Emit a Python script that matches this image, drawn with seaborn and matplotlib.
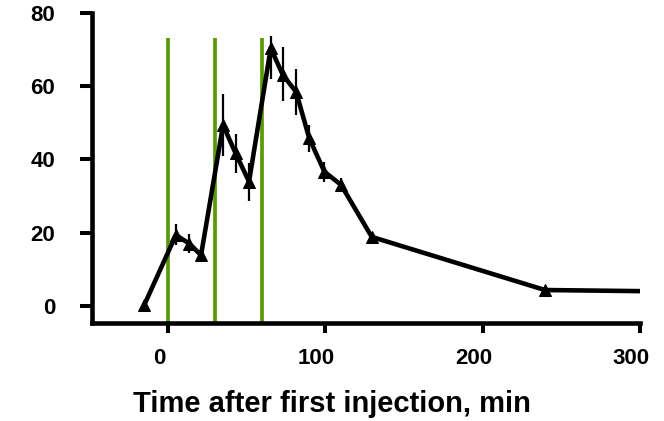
import matplotlib
matplotlib.use("Agg")
import matplotlib.pyplot as plt
import matplotlib.transforms as mtransforms
import seaborn as sns
import pandas as pd

# ---- data ----
time_min = [-15, 5, 13.5, 21, 35, 43, 51.5, 65.3, 73, 81.4, 89.8, 99.4, 110, 129.5, 239.6, 300]
value = [0.3, 19.3, 17.0, 13.8, 49.3, 41.6, 33.9, 70.3, 63.0, 58.4, 45.7, 36.6, 33.0, 18.8, 4.3, 4.0]
err_low = [0, 2.6, 2.5, 1.9, 8.4, 5.3, 5.2, 8.5, 7.0, 6.3, 3.6, 2.7, 1.9, 0, 0, 0]
err_high = [0, 3.0, 2.7, 1.9, 8.4, 5.3, 5.2, 3.4, 7.6, 6.3, 3.6, 2.7, 1.9, 0, 0, 0]
injection_times = [0, 30, 60]
injection_top = 73.1
x_ticks = [0, 100, 200, 300]
y_ticks = [0, 20, 40, 60, 80]
x_label = "Time after first injection, min"

df = pd.DataFrame({"time": time_min, "value": value})

sns.set_style("ticks")
plt.rcParams["font.family"] = ["Liberation Sans", "DejaVu Sans"]
plt.rcParams["font.weight"] = "bold"
for key in ["text.color", "axes.edgecolor", "xtick.color", "ytick.color", "axes.labelcolor"]:
    plt.rcParams[key] = "black"

fig = plt.figure(figsize=(6.64, 4.21), dpi=100)
ax = fig.add_axes([92 / 664, 98 / 421, (640 - 92) / 664, (323 - 12.7) / 421])

green = "#5a9a0a"
for t in injection_times:
    ax.plot([t, t], [-4.7, injection_top], color=green, lw=2.7, zorder=1, solid_capstyle="butt")

ax.errorbar(time_min, value, yerr=[err_low, err_high], fmt="none", ecolor="black",
            elinewidth=1.6, capsize=0, zorder=2)

sns.lineplot(data=df, x="time", y="value", ax=ax, color="black", lw=3.3,
             marker="^", markersize=9, markeredgecolor="black", markerfacecolor="black",
             markevery=list(range(len(time_min) - 1)), zorder=3, legend=False)

ax.set_xlim(-48.3, 300)
ax.set_ylim(-4.7, 80)
ax.set_xticks(x_ticks)
ax.set_yticks(y_ticks)
ax.tick_params(axis="both", colors="black", labelcolor="black")
ax.tick_params(axis="x", length=7.2, width=2.9, pad=11, labelsize=16)
ax.tick_params(axis="y", length=8.6, width=2.9, pad=18, labelsize=16)
for lab in ax.get_xticklabels() + ax.get_yticklabels():
    lab.set_fontweight("bold")

off = mtransforms.ScaledTranslation(-9 / 100, 0, fig.dpi_scale_trans)
for lab in ax.get_xticklabels():
    lab.set_transform(lab.get_transform() + off)

for side in ["top", "right"]:
    ax.spines[side].set_visible(False)
for side in ["left", "bottom"]:
    ax.spines[side].set_linewidth(3.3)
    ax.spines[side].set_color("black")
    ax.spines[side].set_capstyle("projecting")

ax.set_xlabel("")
ax.set_ylabel("")
fig.text(332 / 664, 1 - 412 / 421, x_label, ha="center", va="baseline",
         fontsize=21, fontweight="bold", color="black")

fig.savefig("out.png", dpi=100)
